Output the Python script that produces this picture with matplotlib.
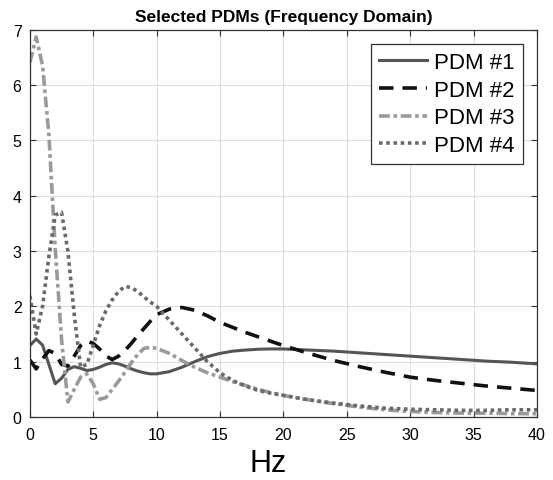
import numpy as np
import matplotlib.pyplot as plt

plt.rcParams['font.family'] = ['Liberation Sans', 'DejaVu Sans']

# frequency grid (Hz) shared by all curves
freq = [0, 0.5, 1, 1.5, 2, 2.5, 3, 3.5, 4, 4.5, 5, 5.5, 6, 6.5, 7, 7.5, 8, 8.5,
        9, 9.5, 10, 11, 12, 13, 14, 15, 16, 17, 18, 19, 20, 22, 24, 26, 28,
        30, 32, 34, 36, 38, 40]

pdm1 = [1.29, 1.41, 1.30, 0.95, 0.60, 0.70, 0.86, 0.91, 0.88, 0.84, 0.86,
        0.90, 0.95, 0.98, 0.96, 0.92, 0.87, 0.83, 0.80, 0.78, 0.78, 0.82,
        0.90, 1.00, 1.09, 1.15, 1.19, 1.21, 1.225, 1.23, 1.23, 1.21, 1.19,
        1.16, 1.13, 1.10, 1.07, 1.04, 1.01, 0.99, 0.96]
pdm2 = [1.03, 0.87, 1.05, 1.20, 1.15, 0.95, 0.92, 1.10, 1.29, 1.37, 1.33,
        1.23, 1.10, 1.04, 1.10, 1.20, 1.33, 1.47, 1.60, 1.73, 1.85, 1.95,
        1.98, 1.93, 1.83, 1.71, 1.62, 1.53, 1.45, 1.37, 1.29, 1.15, 1.02,
        0.91, 0.81, 0.72, 0.66, 0.61, 0.56, 0.52, 0.48]
pdm3 = [6.41, 6.87, 6.35, 5.10, 3.05, 1.40, 0.27, 0.50, 0.72, 0.78, 0.60,
        0.32, 0.35, 0.50, 0.65, 0.81, 0.98, 1.13, 1.24, 1.26, 1.24, 1.15,
        1.02, 0.90, 0.80, 0.72, 0.64, 0.57, 0.50, 0.44, 0.39, 0.31, 0.24,
        0.18, 0.13, 0.10, 0.08, 0.07, 0.07, 0.06, 0.06]
pdm4 = [2.19, 1.50, 2.00, 2.90, 3.65, 3.70, 3.00, 1.85, 0.90, 0.95, 1.30,
        1.65, 1.92, 2.12, 2.27, 2.36, 2.34, 2.27, 2.17, 2.08, 2.00, 1.75,
        1.50, 1.25, 1.00, 0.80, 0.66, 0.56, 0.48, 0.43, 0.39, 0.31, 0.25,
        0.20, 0.16, 0.14, 0.13, 0.12, 0.12, 0.13, 0.13]

labels = ["PDM #1", "PDM #2", "PDM #3", "PDM #4"]

fig = plt.figure(figsize=(5.53, 4.81), dpi=100)
ax = fig.add_axes([0.054, 0.131, 0.917, 0.805])

ax.plot(freq, pdm1, color="#555555", ls="-", lw=2.2, label=labels[0])
ax.plot(freq, pdm2, color="#111111", ls=(0, (4, 2.5)), lw=2.6, label=labels[1])
ax.plot(freq, pdm3, color="#9a9a9a", ls=(0, (3, 1, 1, 1)), lw=2.6, label=labels[2])
ax.plot(freq, pdm4, color="#6a6a6a", ls=(0, (1, 1)), lw=2.6, label=labels[3])

ax.set_xlim(0, 40)
ax.set_ylim(0, 7)
ax.set_xticks(np.arange(0, 41, 5))
ax.set_yticks(np.arange(0, 8, 1))
ax.grid(True, color="#dddddd", lw=0.8)
ax.set_axisbelow(True)
ax.tick_params(direction="in", top=True, right=True, labelsize=11.5, length=4,
               color="#333333")
ax.tick_params(axis="x", pad=7)
ax.tick_params(axis="y", pad=6)
for s in ax.spines.values():
    s.set_color("#333333")
    s.set_linewidth(0.9)

ax.set_title("Selected PDMs (Frequency Domain)", fontsize=12.5,
             fontweight="bold", pad=6)
# x label sits a bit left of the axes centre, near the bottom edge
fig.text(268 / 553, 2 / 481, "Hz", fontsize=22, ha="center", va="bottom")

leg = ax.legend(loc="upper right", fontsize=16, handlelength=2.2,
                borderaxespad=0.65, fancybox=False, framealpha=1,
                edgecolor="#333333", labelspacing=0.3, borderpad=0.35,
                handletextpad=0.3)
leg.get_frame().set_linewidth(0.9)

fig.savefig("out.png", dpi=100)
